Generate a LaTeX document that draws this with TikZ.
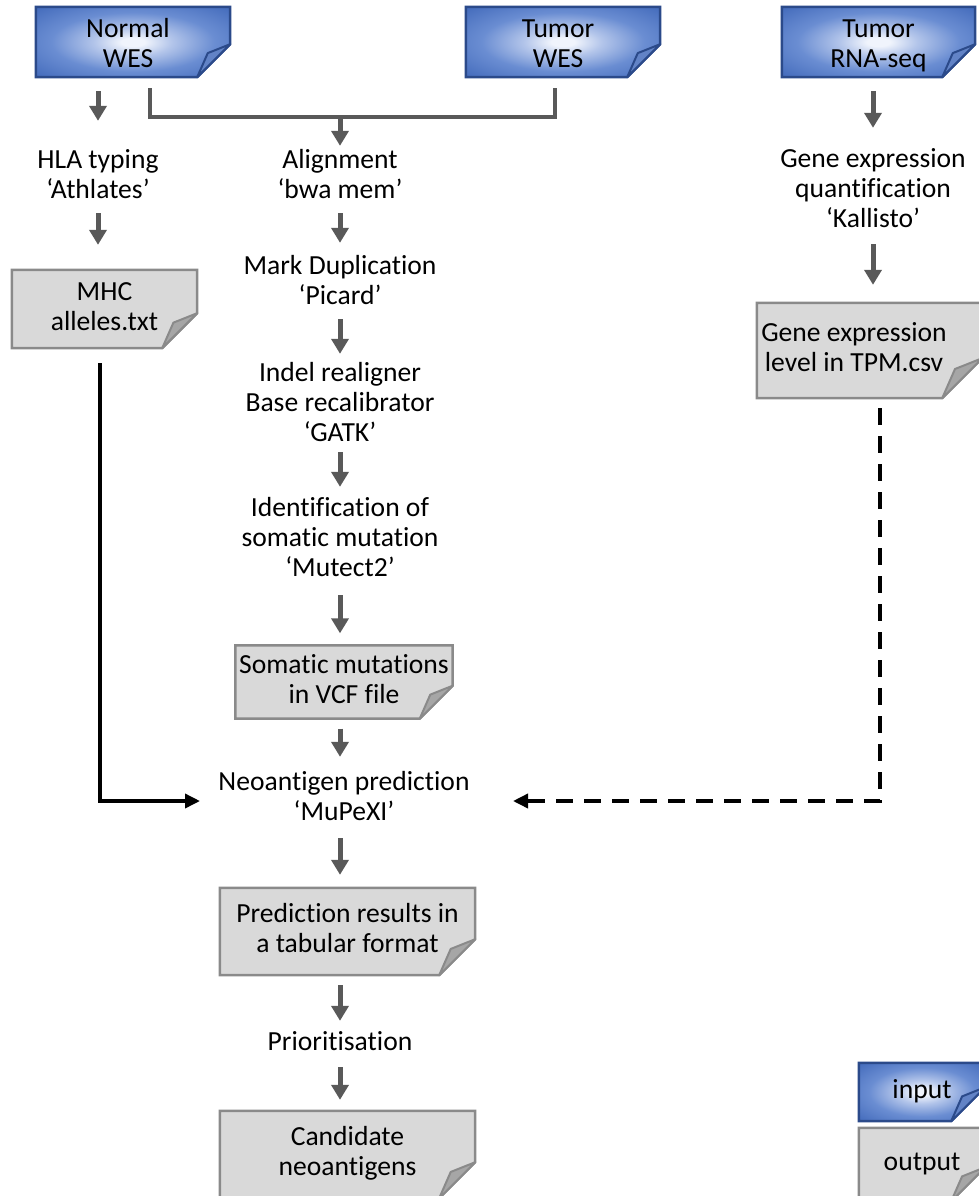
\documentclass[tikz,border=0pt]{standalone}
\usepackage{fontspec}
\setmainfont{Carlito}[Ligatures=NoCommon]
\usetikzlibrary{arrows.meta,backgrounds,calc}
\definecolor{arrgray}{HTML}{595959}
\definecolor{inedge}{HTML}{2B4A8A}
\definecolor{inouter}{HTML}{3A62B5}
\definecolor{inedgeb}{HTML}{4169BA}
\definecolor{inmid}{HTML}{6A8DD2}
\definecolor{inlight}{HTML}{B3C5EA}
\definecolor{ininner}{HTML}{F0F4FC}
\definecolor{inflap}{HTML}{6283C6}
\definecolor{outfill}{HTML}{D9D9D9}
\definecolor{outedge}{HTML}{8A8A8A}
\definecolor{outflap}{HTML}{A6A6A6}
\pgfdeclareradialshading{docshade}{\pgfpoint{0bp}{0bp}}{color(0bp)=(ininner); color(3bp)=(ininner); color(10bp)=(inlight); color(21bp)=(inmid); color(36bp)=(inedgeb); color(72bp)=(inouter)}
\newcommand\tallstrut{\rule{0pt}{31pt}}
\tikzset{
  txt/.style={font=\fontsize{27.6}{30}\selectfont, align=center, inner sep=0pt, text=black},
  inbody/.style={draw=inedge, line width=2.5pt, shading=docshade},
  inflapst/.style={draw=inedge, line width=2pt, fill=inflap, line join=round},
  outbody/.style={draw=outedge, line width=2.5pt, fill=outfill},
  outflapst/.style={draw=outedge, line width=2pt, fill=outflap, line join=round},
  garrow/.style={draw=arrgray, line width=5pt, -{Triangle[length=15pt,width=17pt]}},
  gline/.style={draw=arrgray, line width=4.5pt},
  barrow/.style={draw=black, line width=3.5pt, -{Triangle[length=15pt,width=14pt]}},
  darrow/.style={barrow, dash pattern=on 17pt off 11pt},
}
% #1 extra right, #2 node, #3 cut, #4 body style, #5 flap style
\newcommand\docback[5][0pt]{%
  \begin{scope}[on background layer]
    \path[#4] (#2.north west) -- ([xshift=#1]#2.north east) -- ([xshift=#1,yshift=#3]#2.south east)
      -- ([xshift=#1-#3]#2.south east) -- (#2.south west) -- cycle;
    \path[#5] ([xshift=#1,yshift=#3]#2.south east) -- ([xshift=#1-0.68*#3,yshift=0.73*#3]#2.south east)
      -- ([xshift=#1-#3]#2.south east) -- cycle;
  \end{scope}}
\begin{document}
\begin{tikzpicture}[x=1pt,y=-1pt]
\useasboundingbox (0,0) rectangle (979,1196);
% ---- inputs
\node[txt, minimum width=184pt, minimum height=70pt] (nwes) at (128,42) {\tallstrut\strut Normal\\\strut WES};
\docback[10pt]{nwes}{33pt}{inbody}{inflapst}
\node[txt, minimum width=184pt, minimum height=70pt] (twes) at (558,42) {\tallstrut\strut Tumor\\\strut WES};
\docback[10pt]{twes}{33pt}{inbody}{inflapst}
\node[txt, minimum width=193pt, minimum height=70pt] (rna) at (878.5,42) {\tallstrut\strut Tumor\\\strut RNA-seq};
\docback{rna}{33pt}{inbody}{inflapst}
% ---- text steps
\node[txt] (hla) at (98,177) {\strut HLA typing\\\strut ‘Athlates’};
\node[txt] (align) at (340,177) {\strut Alignment\\\strut ‘bwa mem’};
\node[txt] (markdup) at (340,283) {\strut Mark Duplication\\\strut ‘Picard’};
\node[txt] (gatk) at (340,405) {\strut Indel realigner\\\strut Base recalibrator\\\strut ‘GATK’};
\node[txt] (ident) at (340,540) {\strut Identification of\\\strut somatic mutation\\\strut ‘Mutect2’};
\node[txt] (neo) at (344,799) {\strut Neoantigen prediction\\\strut ‘MuPeXI’};
\node[txt] (prio) at (340,1044) {\strut Prioritisation};
\node[txt] (gene) at (873,191) {\strut Gene expression\\\strut quantification\\\strut ‘Kallisto’};
% ---- outputs
\node[txt, minimum width=185pt, minimum height=78pt] (mhc) at (104.5,309) {\strut MHC\\\strut alleles.txt};
\docback{mhc}{35pt}{outbody}{outflapst}
\node[txt, minimum width=217pt, minimum height=73pt] (vcf) at (344,682) {\strut Somatic mutations\\\strut in VCF file};
\docback{vcf}{33pt}{outbody}{outflapst}
\node[txt, minimum width=255pt, minimum height=87pt] (pred) at (347.5,931.5) {\strut Prediction results in\\\strut a tabular format};
\docback{pred}{36pt}{outbody}{outflapst}
\node[txt, minimum width=255pt, minimum height=87pt] (cand) at (347.5,1154.5) {\strut Candidate\\\strut neoantigens};
\docback{cand}{36pt}{outbody}{outflapst}
\node[txt, minimum width=194pt, minimum height=95pt] (tpm) at (854,350.5) {\strut Gene expression\\\strut level in TPM.csv};
\docback[31pt]{tpm}{40pt}{outbody}{outflapst}
% ---- legend
\node[txt, minimum width=126pt, minimum height=58pt] (legin) at (922,1092) {\strut input};
\docback{legin}{34pt}{inbody}{inflapst}
\node[txt, minimum width=126pt, minimum height=73pt] (legout) at (922,1164.5) {\strut output};
\docback{legout}{34pt}{outbody}{outflapst}
% ---- connectors
\coordinate (nwesb) at ([yshift=-14pt]nwes.south);
\draw[garrow, shorten >=26pt] (nwesb -| hla) -- (hla.north);
\draw[garrow, shorten <=6pt, shorten >=25pt] (hla.south) -- (hla.south |- mhc.north);
\coordinate (bl) at ([xshift=22pt,yshift=-11pt]nwes.south);
\coordinate (br) at ([xshift=-3pt,yshift=-11pt]twes.south);
\draw[gline] (bl) -- ++(0,29) -| (br);
\coordinate (bj) at ([yshift=-40pt]nwes.south);
\draw[garrow, shorten >=1pt] (bj -| align) -- (align.north);
\draw[garrow, shorten <=6pt, shorten >=10pt] (align.south) -- (markdup.north);
\draw[garrow, shorten <=6pt, shorten >=6pt] (markdup.south) -- (gatk.north);
\draw[garrow, shorten <=2pt, shorten >=8pt] (gatk.south) -- (ident.north);
\draw[garrow, shorten <=10pt, shorten >=12pt] (ident.south) -- (ident.south |- vcf.north);
\draw[garrow, shorten <=10pt, shorten >=12pt] (ident |- vcf.south) -- (ident |- neo.north);
\draw[garrow, shorten <=9pt, shorten >=13pt] (ident |- neo.south) -- (ident |- pred.north);
\draw[garrow, shorten <=10pt, shorten >=8pt] (ident |- pred.south) -- (prio.north);
\draw[garrow, shorten <=8pt, shorten >=11pt] (prio.south) -- (prio.south |- cand.north);
\coordinate (rnab) at ([yshift=-14pt]rna.south);
\draw[garrow, shorten >=18pt] (rnab -| gene) -- (gene.north);
\draw[garrow, shorten <=8pt, shorten >=18pt] (gene.south) -- (gene.south |- tpm.north);
\draw[barrow] ([xshift=-4.5pt,yshift=-15pt]mhc.south) |- ([xshift=-144pt,yshift=-2pt]neo.center);
\draw[darrow] ([xshift=26pt,yshift=-10pt]tpm.south) |- ([xshift=169pt,yshift=-2pt]neo.center);
\end{tikzpicture}
\end{document}
